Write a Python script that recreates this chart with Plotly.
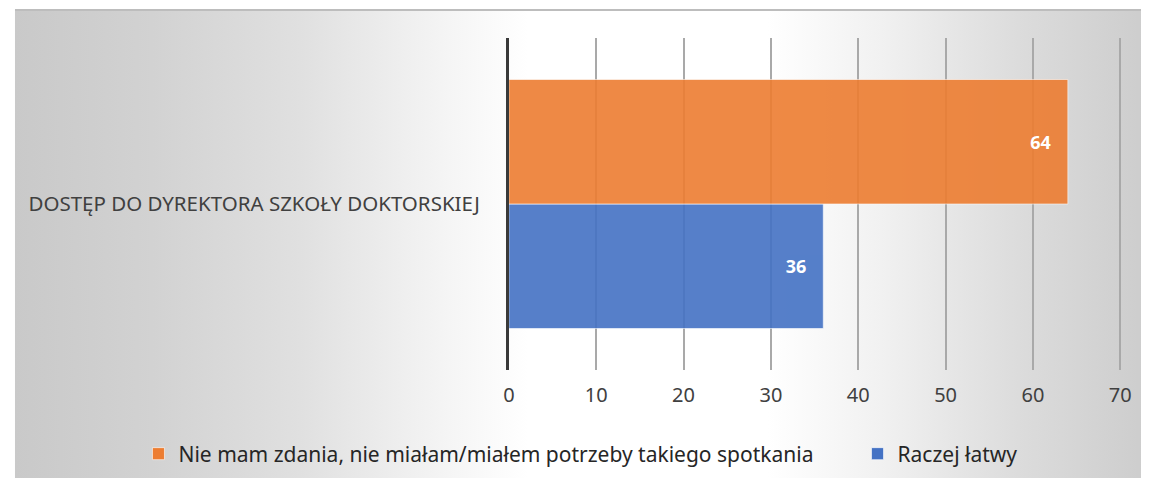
import plotly.graph_objects as go

# page 1149x486; the page body adds an 8px margin, so the figure is placed at (8, 8)
PW, PH = 1149, 486
OFF = 8
FW, FH = PW - OFF, PH - 2 * OFF

category = ["DOSTĘP DO DYREKTORA SZKOŁY DOKTORSKIEJ"]
series_names = ["Raczej łatwy", "Nie mam zdania, nie miałam/miałem potrzeby takiego spotkania"]
series_values = [[36], [64]]
series_colors = ["#4472C4", "#ED7D31"]
x_ticks = [0, 10, 20, 30, 40, 50, 60, 70]
x_max = 70


def fx(x):
    return (x - OFF) / FW


def fy(y):
    return 1 - (y - OFF) / FH


FONT = "Noto Sans"

fig = go.Figure()

# background: grey at the edges, white band in the middle (horizontal gradient)
fig.add_trace(go.Scatter(
    x=[9, PW, PW, 9, 9],
    y=[10, 10, PH, PH, 10],
    mode="lines", line=dict(width=0), fill="toself",
    fillgradient=dict(type="horizontal", start=9, stop=PW,
                      colorscale=[[0, "#c9c9c9"], [0.12, "#d2d2d2"], [0.25, "#e0e0e0"],
                                  [0.38, "#f5f5f5"], [0.45, "#ffffff"], [0.66, "#ffffff"],
                                  [0.76, "#f1f1f1"], [0.88, "#dcdcdc"], [1, "#cccccc"]]),
    hoverinfo="skip", showlegend=False, xaxis="x", yaxis="y"))

legend_ids = ["legend2", "legend"]
for name, vals, col, lg in zip(series_names, series_values, series_colors, legend_ids):
    fig.add_trace(go.Bar(
        y=category, x=vals, name=name, orientation="h", legend=lg,
        marker=dict(color=col, opacity=0.9, line=dict(color="rgba(255,255,255,0.6)", width=1)),
        texttemplate="<b>%{x}</b>\u00a0\u00a0\u00a0", textposition="inside",
        insidetextanchor="end",
        textfont=dict(color="white", size=18, family=FONT),
        xaxis="x2", yaxis="y2"))

legend_common = dict(orientation="h", yanchor="middle", y=fy(454), xanchor="left",
                     bgcolor="rgba(0,0,0,0)",
                     font=dict(size=21, color="#262626", family=FONT))

# x axis: 0 at page x=509, 70 near page x=1126 (pad range a bit so the 70 gridline shows)
x0_px, x70_px = 509, 1128
px_per_unit = (x70_px - x0_px) / x_max
pad = 0.4

fig.update_layout(
    width=FW, height=FH,
    margin=dict(l=0, r=0, t=0, b=0),
    paper_bgcolor="white", plot_bgcolor="rgba(0,0,0,0)",
    barmode="group", bargap=0.25, bargroupgap=0,
    font=dict(family=FONT, color="#404040"),
    xaxis=dict(domain=[0, 1], range=[OFF, OFF + FW], visible=False, fixedrange=True),
    yaxis=dict(domain=[0, 1], range=[OFF + FH, OFF], visible=False, fixedrange=True),
    xaxis2=dict(domain=[fx(x0_px), fx(x70_px + pad * px_per_unit)], range=[0, x_max + pad],
                anchor="y2",
                tickvals=x_ticks, showgrid=True, gridcolor="#a9a9a9", gridwidth=2,
                zeroline=False, showline=False, ticks="", ticklabelstandoff=11,
                tickfont=dict(size=20, color="#404040", family=FONT)),
    yaxis2=dict(domain=[fy(370), fy(38)], anchor="x2", type="category",
                showline=True, linecolor="#3a3a3a", linewidth=3, ticks="",
                ticklabelstandoff=22,
                tickfont=dict(size=20.5, color="#404040", family=FONT)),
    legend=dict(x=fx(134), **legend_common),
    legend2=dict(x=fx(862), **legend_common),
    shapes=[
        dict(type="rect", xref="paper", yref="paper", x0=fx(105), x1=fx(1045),
             y0=fy(477), y1=fy(432), fillcolor="rgba(255,255,255,0.55)", line=dict(width=0),
             layer="below"),
        dict(type="line", xref="paper", yref="paper", x0=fx(9), x1=1, y0=fy(10), y1=fy(10),
             line=dict(color="#bdbdbd", width=2)),
    ],
)

fig.write_html("out.html")
